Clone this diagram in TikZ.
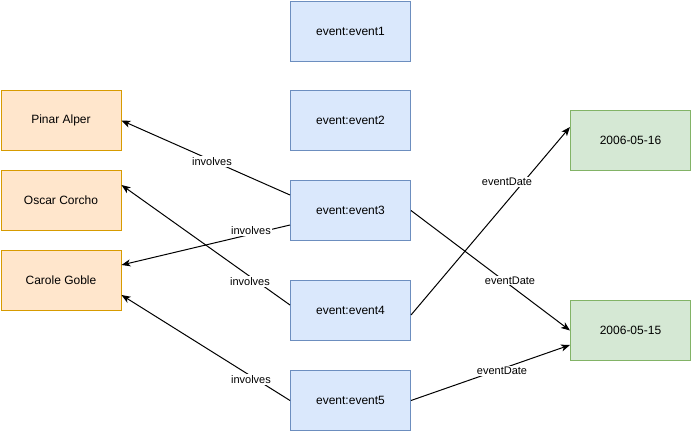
\documentclass[tikz,border=0pt]{standalone}
\usepackage{fontspec}
\setmainfont{Liberation Sans}
\usetikzlibrary{arrows.meta,calc}
\definecolor{evfill}{HTML}{DAE8FC}
\definecolor{evline}{HTML}{6C8EBF}
\definecolor{psfill}{HTML}{FFE6CC}
\definecolor{psline}{HTML}{D79B00}
\definecolor{dtfill}{HTML}{D5E8D4}
\definecolor{dtline}{HTML}{82B366}
\tikzset{
  box/.style={rectangle, minimum width=120pt, minimum height=60pt, inner sep=0pt,
    line width=1pt, font=\fontsize{12pt}{14pt}\selectfont, anchor=north west},
  eventbox/.style={box, draw=evline, fill=evfill},
  personbox/.style={box, draw=psline, fill=psfill},
  datebox/.style={box, draw=dtline, fill=dtfill},
  rel/.style={draw=black, line width=1pt, -{Stealth[length=9pt,width=7pt,inset=2.5pt]}},
  lbl/.style={fill=white, inner sep=1pt, font=\fontsize{11pt}{13pt}\selectfont}
}
\begin{document}
\begin{tikzpicture}[x=1pt,y=-1pt]
\useasboundingbox (0,0) rectangle (691,431);
% events
\node[eventbox] (e1) at (290,0.5) {event:event1};
\node[eventbox] (e2) at (290,90) {event:event2};
\node[eventbox] (e3) at (290,180) {event:event3};
\node[eventbox] (e4) at (290,280) {event:event4};
\node[eventbox] (e5) at (290,370) {event:event5};
% people
\node[personbox] (pa) at (0.5,90) {Pinar Alper};
\node[personbox] (oc) at (0.5,170) {Oscar Corcho};
\node[personbox] (cg) at (0.5,250) {Carole Goble};
% dates
\node[datebox] (d16) at (570,110) {2006-05-16};
\node[datebox] (d15) at (570,300) {2006-05-15};
% involves
\draw[rel] ($(e3.north west)+(0,15)$) -- (pa.east);
\draw[rel] ($(e3.north west)+(0,45)$) -- ($(cg.north east)+(0,15)$);
\draw[rel] ($(e4.north west)+(0,25)$) -- ($(oc.north east)+(0,15)$);
\draw[rel] (e5.west) -- ($(cg.north east)+(0,45)$);
% eventDate
\draw[rel] (e3.east) -- (d15.west);
\draw[rel] ($(e4.north east)+(0,35)$) -- ($(d16.north west)+(0,17)$);
\draw[rel] (e5.east) -- ($(d15.north west)+(0,45)$);
% edge labels
\node[lbl] (l1) at (212,161.5) {involves};
\node[lbl] (l2) at (251,231) {involves};
\node[lbl] (l3) at (250,281.5) {involves};
\node[lbl] (l4) at (251,379.5) {involves};
\node[lbl] (l5) at (507,182) {eventDate};
\node[lbl] (l6) at (510,280.5) {eventDate};
\node[lbl] (l7) at (502,371) {eventDate};
\end{tikzpicture}
\end{document}
